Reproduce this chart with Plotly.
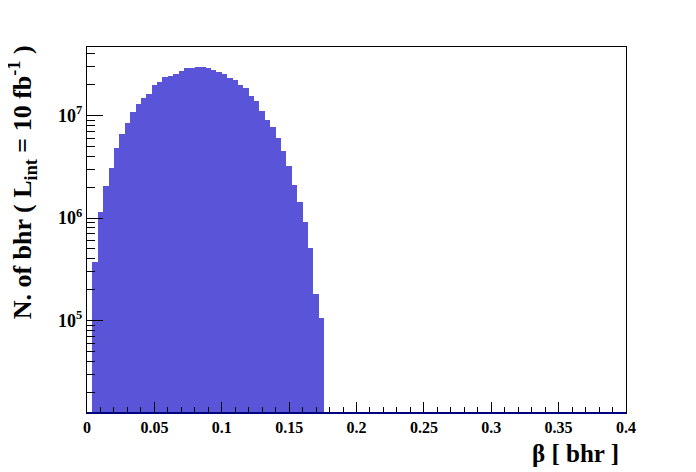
import numpy as np
import plotly.graph_objects as go

# histogram of beta, 100 bins of 0.004 from 0 to 0.4 (only the filled part listed)
bin_width = 0.004
counts = [0, 3.75e5, 1.15e6, 2.05e6, 3.1e6, 4.82e6, 6.6e6, 8.5e6, 1.09e7, 1.30e7,
          1.49e7, 1.63e7, 2.0e7, 2.12e7, 2.39e7, 2.45e7, 2.56e7, 2.72e7, 2.9e7, 2.93e7,
          2.95e7, 2.94e7, 2.92e7, 2.8e7, 2.67e7, 2.56e7, 2.34e7, 2.24e7, 2.0e7, 1.87e7,
          1.56e7, 1.38e7, 1.11e7, 9.0e6, 7.7e6, 6.0e6, 4.5e6, 3.2e6, 2.1e6, 1.43e6,
          9.1e5, 5.1e5, 1.82e5, 1.06e5]
bin_centers = [bin_width * (i + 0.5) for i in range(len(counts))]

x_ticks = [0, 0.05, 0.1, 0.15, 0.2, 0.25, 0.3, 0.35, 0.4]
x_labels = ["0", "0.05", "0.1", "0.15", "0.2", "0.25", "0.3", "0.35", "0.4"]
y_ticks = [1e5, 1e6, 1e7]
y_labels = ["10<sup>5</sup>", "10<sup>6</sup>", "10<sup>7</sup>"]

fill = "rgb(90,85,216)"
font = "Liberation Serif"

fig = go.Figure()
fig.add_trace(go.Bar(
    x=bin_centers, y=[c if c > 0 else None for c in counts],
    width=bin_width, marker=dict(color=fill, line=dict(width=0)),
    showlegend=False,
))

# dark line of the histogram at the bottom
fig.add_shape(type="line", xref="x", yref="y domain", x0=0, x1=0.4, y0=0, y1=0,
              line=dict(color="#00007f", width=2))

x_minor = [round(0.01 * i, 2) for i in range(41)]
y_minor = [m * 10 ** e for e in range(4, 8) for m in range(2, 10)]

# page has an 8px body margin, so the figure is 8px smaller than the window
fig.update_layout(
    width=688, height=464,
    margin=dict(l=79, r=70, t=39, b=59),
    paper_bgcolor="white", plot_bgcolor="white",
    bargap=0,
    xaxis=dict(
        range=[0, 0.4], tickvals=x_ticks, ticktext=x_labels, automargin=False,
        ticks="inside", ticklen=11, tickwidth=1, tickcolor="black",
        minor=dict(tickmode="array", tickvals=x_minor, ticks="inside", ticklen=6,
                   tickcolor="black", tickwidth=1),
        showline=True, linecolor="black", linewidth=1, mirror=True,
        showgrid=False, zeroline=False,
        tickfont=dict(family=font, size=16, color="black", weight="bold"),
    ),
    yaxis=dict(
        type="log", range=[4.098, 7.668], tickvals=y_ticks, ticktext=y_labels,
        automargin=False,
        ticks="inside", ticklen=16, tickwidth=1, tickcolor="black",
        minor=dict(tickmode="array", tickvals=y_minor, ticks="inside", ticklen=8,
                   tickcolor="black", tickwidth=1),
        showline=True, linecolor="black", linewidth=1, mirror=True,
        showgrid=False, zeroline=False,
        tickfont=dict(family=font, size=18, color="black", weight="bold"),
    ),
    annotations=[
        dict(text="β [ bhr ]", xref="paper", yref="paper", x=1.0, y=-0.11,
             xanchor="right", yanchor="middle", showarrow=False, xshift=-5,
             font=dict(family=font, size=25, color="black", weight="bold")),
        dict(text="N. of bhr ( L<sub>int</sub> = 10 fb<sup>-1</sup> )",
             xref="paper", yref="paper", x=-0.12, y=1.0, textangle=-90,
             xanchor="center", yanchor="top", showarrow=False, yshift=4,
             font=dict(family=font, size=26, color="black", weight="bold")),
    ],
)

fig.write_html("out.html")
